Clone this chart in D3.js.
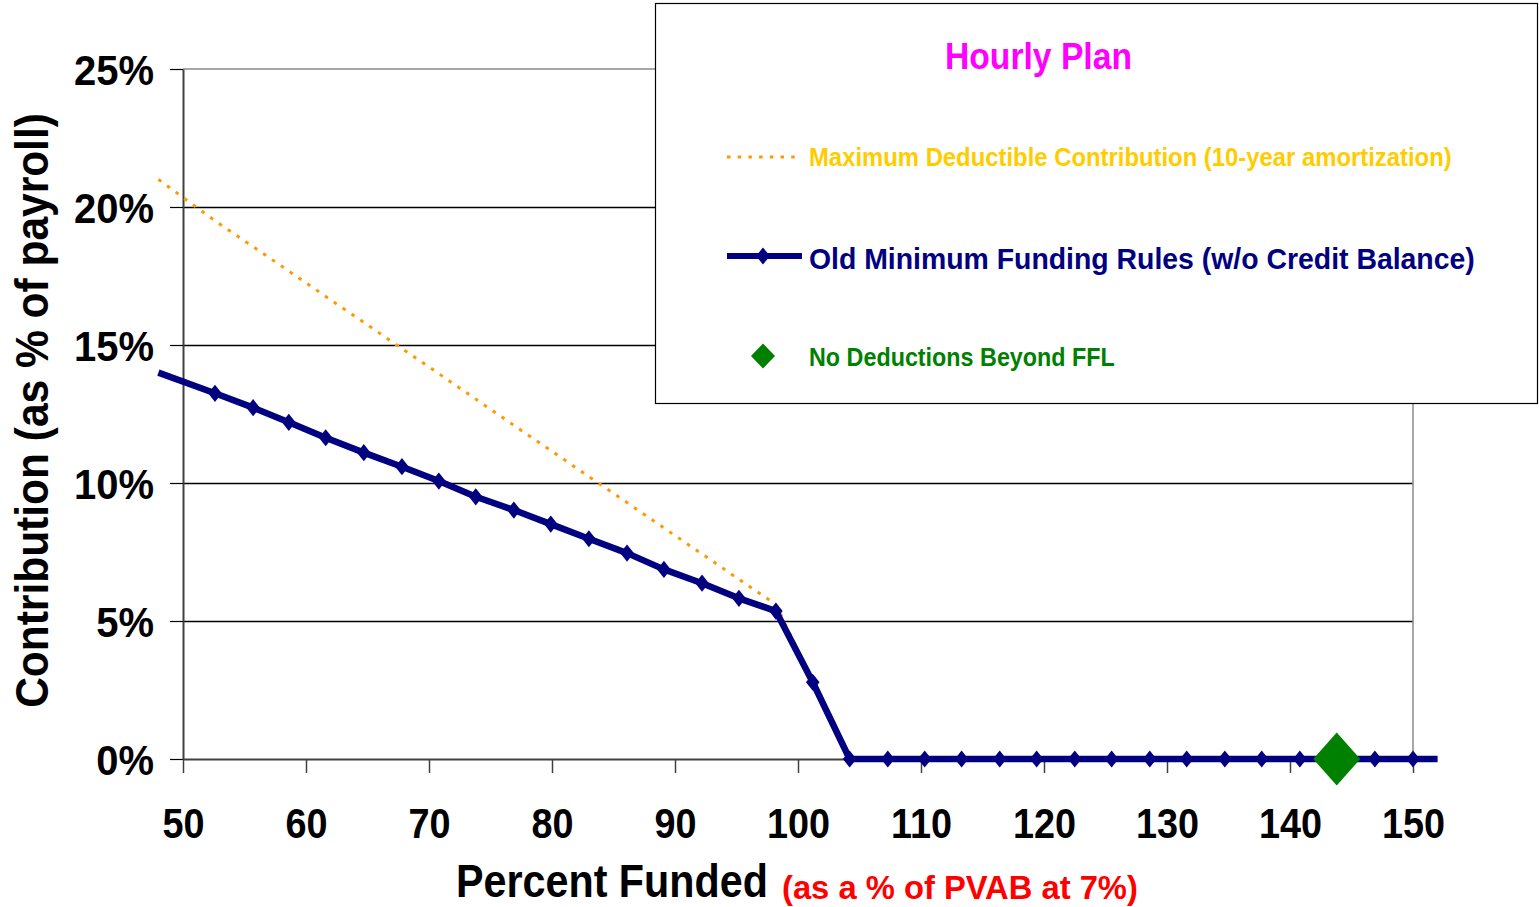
<!DOCTYPE html>
<html>
<head>
<meta charset="utf-8">
<script src="https://cdn.jsdelivr.net/npm/d3@7"></script>
<style>
  html, body { margin: 0; padding: 0; background: #fff; }
  svg { display: block; }
  text { font-family: "Liberation Sans", Arial, Helvetica, sans-serif; font-weight: bold; }
</style>
</head>
<body>
<svg id="chart" width="1539" height="907"></svg>
<script>
// Funded ratio at each valuation point (% of PVAB at 7%)
const percentFunded = [48.0, 52.6, 55.7, 58.6, 61.6, 64.7, 67.8, 70.8, 73.8, 76.9, 79.9, 83.0,
  86.1, 89.1, 92.2, 95.2, 98.2, 101.2, 104.2, 107.3, 110.3, 113.3, 116.4, 119.4, 122.5,
  125.5, 128.6, 131.6, 134.7, 137.7, 140.8, 143.8, 146.9, 150.0, 152.0];

// Old minimum funding rules (w/o credit balance), contribution as % of payroll
const oldMinimum = [14.0, 13.25, 12.73, 12.2, 11.64, 11.1, 10.59, 10.07, 9.5, 9.02, 8.51, 7.98,
  7.46, 6.87, 6.37, 5.82, 5.36, 2.78, 0, 0, 0, 0, 0, 0, 0,
  0, 0, 0, 0, 0, 0, 0, 0, 0, 0];

// Maximum deductible contribution (10-year amortization), % of payroll
const maxDeductible = [21.0, 19.5, 18.56, 17.68, 16.76, 15.82, 14.87, 13.96, 13.04, 12.09, 11.18, 10.23,
  9.29, 8.37, 7.43, 6.51, 5.6, 2.8, null, null, null, null, null, null, null,
  null, null, null, null, null, null, null, null, null, null];

// No deductions beyond the full funding limit
const fflFunded = [143.8];
const fflContribution = [0];

const xTicks = [50, 60, 70, 80, 90, 100, 110, 120, 130, 140, 150];
const yTicks = [0, 5, 10, 15, 20, 25];

const legendTitle = "Hourly Plan";
const seriesNames = [
  "Maximum Deductible Contribution (10-year amortization)",
  "Old Minimum Funding Rules (w/o Credit Balance)",
  "No Deductions Beyond FFL"
];
const xTitle = "Percent Funded";
const xSubTitle = "(as a % of PVAB at 7%)";
const yTitle = "Contribution (as % of payroll)";

const NAVY = "#000080", ORANGE = "#FF9900", GOLD = "#FFCC00", GREEN = "#008000",
      MAGENTA = "#FF00FF", RED = "#FF0000";

const W = 1539, H = 907;
const x = d3.scaleLinear().domain([50, 150]).range([183, 1413]);
const y = d3.scaleLinear().domain([0, 25]).range([759, 69]);

const svg = d3.select("#chart");
svg.append("rect").attr("width", W).attr("height", H).attr("fill", "#fff");

// Horizontal gridlines
svg.append("g").selectAll("line")
  .data(yTicks.filter(v => v > 0 && v < 25))
  .join("line")
  .attr("x1", x(50)).attr("x2", x(150))
  .attr("y1", d => Math.round(y(d)) + 0.5).attr("y2", d => Math.round(y(d)) + 0.5)
  .attr("stroke", "#000").attr("stroke-width", 1.3);

// Plot-area frame (top and right)
svg.append("path")
  .attr("d", `M${x(50)},${y(25)}H${x(150)}V${y(0)}`)
  .attr("fill", "none").attr("stroke", "#8a8a8a").attr("stroke-width", 1.5);

// Y axis
const gy = svg.append("g")
  .attr("transform", `translate(${x(50)},0)`)
  .call(d3.axisLeft(y).tickValues(yTicks).tickSize(13).tickSizeOuter(0).tickPadding(16)
    .tickFormat(d => d + "%"));
gy.select(".domain").attr("stroke", "#404040").attr("stroke-width", 2);
gy.selectAll(".tick line").attr("stroke", "#000").attr("stroke-width", 1.2);
gy.selectAll(".tick text")
  .attr("font-size", 43).attr("fill", "#000").attr("dy", "0.37em")
  .style("font-family", '"Liberation Sans", Arial, sans-serif').style("font-weight", "bold");

// X axis
const gx = svg.append("g")
  .attr("transform", `translate(0,${y(0)})`)
  .call(d3.axisBottom(x).tickValues(xTicks).tickSize(14).tickSizeOuter(0).tickPadding(35));
gx.select(".domain").attr("stroke", "#404040").attr("stroke-width", 2);
gx.selectAll(".tick line").attr("stroke", "#404040").attr("stroke-width", 1.5);
gx.selectAll(".tick text")
  .attr("font-size", 42).attr("fill", "#000")
  .style("font-family", '"Liberation Sans", Arial, sans-serif').style("font-weight", "bold");

// Condensed lettering: squeeze a text horizontally about its own anchor point
function squeeze(sel, k) {
  sel.each(function () {
    const t = d3.select(this);
    const ax = +t.attr("x") || 0;
    t.attr("transform", `translate(${ax},0) scale(${k},1) translate(${-ax},0)`);
  });
}
squeeze(gy.selectAll(".tick text"), 0.93);
squeeze(gx.selectAll(".tick text"), 0.9);

// Series data
const pts = percentFunded.map((f, i) => ({ f, oldMin: oldMinimum[i], maxDed: maxDeductible[i] }));

const diamond = (hw, hh) => `M0,${-hh}L${hw},0L0,${hh}L${-hw},0Z`;

// Maximum deductible contribution (dotted)
svg.append("path")
  .datum(pts)
  .attr("d", d3.line().defined(d => d.maxDed != null).x(d => x(d.f)).y(d => y(d.maxDed)))
  .attr("fill", "none").attr("stroke", ORANGE).attr("stroke-width", 3)
  .attr("stroke-dasharray", "3.5 7.2");

// Old minimum funding rules line
svg.append("path")
  .datum(pts)
  .attr("d", d3.line().x(d => x(d.f)).y(d => y(d.oldMin)))
  .attr("fill", "none").attr("stroke", NAVY).attr("stroke-width", 6.5)
  .attr("stroke-linejoin", "round");

svg.append("g").selectAll("path")
  .data(pts.filter(d => d.f >= 50 && d.f <= 150))
  .join("path")
  .attr("transform", d => `translate(${x(d.f)},${y(d.oldMin)})`)
  .attr("d", diamond(6.8, 8.6))
  .attr("fill", NAVY);

// Full funding limit marker
svg.append("g").selectAll("path")
  .data(fflFunded.map((f, i) => ({ f, v: fflContribution[i] })))
  .join("path")
  .attr("transform", d => `translate(${x(d.f)},${y(d.v)})`)
  .attr("d", diamond(23.5, 26.5))
  .attr("fill", GREEN);

// Text placed at (x0, base) and scaled horizontally to span the given width
function label(g, txt, x0, base, size, color, width) {
  const t = g.append("text")
    .attr("x", 0).attr("y", 0)
    .attr("font-size", size).attr("fill", color)
    .text(txt);
  const k = width / t.node().getComputedTextLength();
  t.attr("transform", `translate(${x0},${base}) scale(${k},1)`);
  return t;
}

// Legend
const lg = svg.append("g");
lg.append("rect")
  .attr("x", 655.5).attr("y", 3.5).attr("width", 882).attr("height", 400)
  .attr("fill", "#fff").attr("stroke", "#000").attr("stroke-width", 1.2);

label(lg, legendTitle, 945, 68.5, 37, MAGENTA, 187);

lg.append("line")
  .attr("x1", 727).attr("x2", 797).attr("y1", 157).attr("y2", 157)
  .attr("stroke", ORANGE).attr("stroke-width", 3).attr("stroke-dasharray", "3.5 7.2");
label(lg, seriesNames[0], 809, 166, 26.5, GOLD, 643);

lg.append("line")
  .attr("x1", 727).attr("x2", 802).attr("y1", 256).attr("y2", 256)
  .attr("stroke", NAVY).attr("stroke-width", 6);
lg.append("path").attr("transform", "translate(763,256)").attr("d", diamond(7, 8.5)).attr("fill", NAVY);
label(lg, seriesNames[1], 809, 268.5, 30, NAVY, 666);

lg.append("path").attr("transform", "translate(763,356)").attr("d", diamond(12, 12.5)).attr("fill", GREEN);
label(lg, seriesNames[2], 809, 366, 26.5, GREEN, 306);

// Axis titles
const yt = svg.append("text")
  .attr("text-anchor", "middle")
  .attr("font-size", 46).attr("fill", "#000")
  .text(yTitle);
const ky = 595 / yt.node().getComputedTextLength();
yt.attr("transform", `translate(48,410.5) rotate(-90) scale(${ky},1)`);

label(svg, xTitle, 456, 897, 46, "#000", 312);
label(svg, xSubTitle, 782, 899, 33, RED, 356);
</script>
</body>
</html>
